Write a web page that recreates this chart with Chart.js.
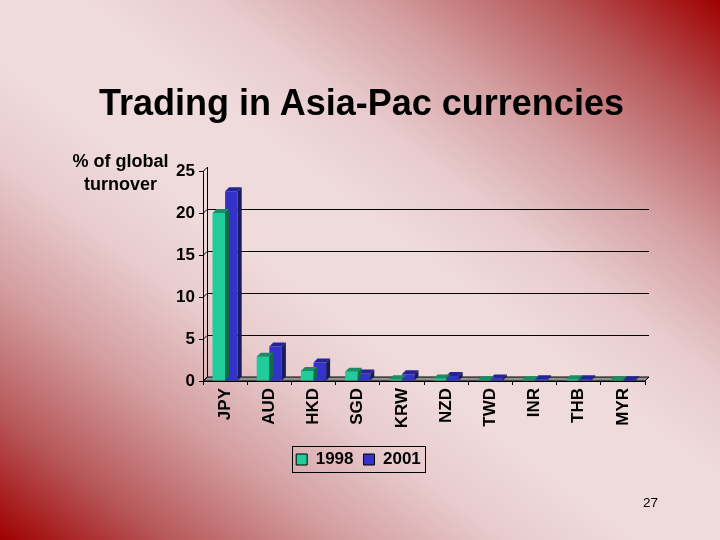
<!DOCTYPE html>
<html>
<head>
<meta charset="utf-8">
<script src="https://cdn.jsdelivr.net/npm/chart.js@4.4.0/dist/chart.umd.min.js"></script>
<style>
  html, body { margin: 0; padding: 0; }
  body {
    width: 720px; height: 540px; position: relative; overflow: hidden;
    font-family: "Liberation Sans", Arial, sans-serif;
    background: linear-gradient(to bottom left,
      #a00000 0%, #b85a5c 12%, #d49fa1 24%, #e8cbcd 35%, #efdadc 44%,
      #efdadc 56%, #e8cbcd 65%, #d49fa1 76%, #b85a5c 88%, #a00000 100%);
  }
  #wrap { position: absolute; left: 0; top: 0; width: 720px; height: 540px; }
  .txt { position: absolute; color: #000; text-align: center; }
  #title { left: 0; top: 85px; width: 723px; font-size: 36px; line-height: 35px; font-weight: bold; }
  #ytitle { left: 60px; top: 150px; width: 121px; font-size: 18px; line-height: 23px; font-weight: bold; }
  #pageno { left: 630px; top: 496px; width: 41px; font-size: 13.5px; line-height: 14px; }
</style>
</head>
<body>
<div id="wrap"><canvas id="myChart"></canvas></div>
<div class="txt" id="title">Trading in Asia-Pac currencies</div>
<div class="txt" id="ytitle">% of global<br>turnover</div>
<div class="txt" id="pageno">27</div>
<script>
const currencies = ['JPY', 'AUD', 'HKD', 'SGD', 'KRW', 'NZD', 'TWD', 'INR', 'THB', 'MYR'];
const share1998 = [20.0, 2.9, 1.2, 1.1, 0.2, 0.3, 0.1, 0.1, 0.2, 0.1];
const share2001 = [22.6, 4.1, 2.2, 0.9, 0.8, 0.6, 0.3, 0.2, 0.2, 0.1];
const yTicks = [0, 5, 10, 15, 20, 25];

const DX = 4, DY = -4;
const faceColors = [
    { top: 'rgb(28,140,100)', side: 'rgb(18,105,75)' },
    { top: 'rgb(36,36,150)', side: 'rgb(26,26,92)' }
];

Chart.defaults.font.family = '"Liberation Sans", Arial, sans-serif';
Chart.defaults.color = '#000';

// back wall, floor and the 3d faces of the bars
const depth3d = {
    id: 'depth3d',
    beforeDatasetsDraw: (chart) => {
        const ctx = chart.ctx;
        const area = chart.chartArea;
        const y = chart.scales.y;
        ctx.save();
        ctx.strokeStyle = '#000';
        ctx.lineWidth = 1;
        // floor
        ctx.fillStyle = '#8f8f8f';
        ctx.beginPath();
        ctx.moveTo(area.left, area.bottom);
        ctx.lineTo(area.right, area.bottom);
        ctx.lineTo(area.right + DX, area.bottom + DY);
        ctx.lineTo(area.left + DX, area.bottom + DY);
        ctx.closePath();
        ctx.fill();
        ctx.stroke();
        // back vertical
        ctx.beginPath();
        ctx.moveTo(area.left + DX + 0.5, area.bottom + DY);
        ctx.lineTo(area.left + DX + 0.5, area.top + DY);
        ctx.stroke();
        yTicks.forEach(v => {
            const py = Math.round(y.getPixelForValue(v)) + 0.5;
            ctx.beginPath();
            ctx.moveTo(area.left, py);
            ctx.lineTo(area.left + DX, py + DY);
            if (v > 0 && v < 25) ctx.lineTo(area.right + DX, py + DY);
            ctx.stroke();
        });
        ctx.restore();
    },
    afterDatasetDraw: (chart, args) => {
        const ctx = chart.ctx;
        const c = faceColors[args.index];
        ctx.save();
        args.meta.data.forEach(bar => {
            const p = bar.getProps(['x', 'y', 'base', 'width'], true);
            const l = p.x - p.width / 2, r = p.x + p.width / 2;
            ctx.fillStyle = c.top;
            ctx.beginPath();
            ctx.moveTo(l, p.y);
            ctx.lineTo(r, p.y);
            ctx.lineTo(r + DX, p.y + DY);
            ctx.lineTo(l + DX, p.y + DY);
            ctx.closePath();
            ctx.fill();
            ctx.fillStyle = c.side;
            ctx.beginPath();
            ctx.moveTo(r, p.y);
            ctx.lineTo(r + DX, p.y + DY);
            ctx.lineTo(r + DX, p.base + DY);
            ctx.lineTo(r, p.base);
            ctx.closePath();
            ctx.fill();
        });
        ctx.restore();
    },
    afterDraw: (chart) => {
        const boxes = chart.legend.legendHitBoxes;
        if (!boxes || !boxes.length) return;
        const ctx = chart.ctx;
        const left = Math.min(...boxes.map(b => b.left)) - 4;
        const right = Math.max(...boxes.map(b => b.left + b.width)) + 4;
        const top = boxes[0].top - 5;
        const bottom = boxes[0].top + boxes[0].height + 4;
        ctx.save();
        ctx.strokeStyle = '#000';
        ctx.lineWidth = 1;
        ctx.strokeRect(Math.round(left) + 0.5, Math.round(top) + 0.5, Math.round(right - left), Math.round(bottom - top));
        ctx.restore();
    }
};

const ctx = document.getElementById('myChart').getContext('2d');
const myChart = new Chart(ctx, {
    type: 'bar',
    plugins: [depth3d],
    data: {
        labels: currencies,
        datasets: [{
            label: '1998',
            data: share1998,
            backgroundColor: 'rgb(32,204,153)',
            borderWidth: 0,
            barPercentage: 1,
            categoryPercentage: 0.57
        }, {
            label: '2001',
            data: share2001,
            backgroundColor: 'rgb(51,51,204)',
            borderWidth: 0,
            barPercentage: 1,
            categoryPercentage: 0.57
        }]
    },
    options: {
        responsive: true,
        maintainAspectRatio: false,
        animation: false,
        layout: { padding: { left: 72, right: 75, top: 171, bottom: 62 } },
        scales: {
            x: {
                grid: { drawOnChartArea: false, tickLength: 4, color: '#000', offset: true },
                border: { color: '#000' },
                ticks: { minRotation: 90, maxRotation: 90, autoSkip: false, padding: 3,
                    color: '#000', font: { size: 17, weight: 'bold' } },
                afterFit: (axis) => { axis.height = 60; }
            },
            y: {
                min: 0,
                max: 25,
                grid: { drawOnChartArea: false, tickLength: 4, color: '#000' },
                border: { color: '#000' },
                ticks: { stepSize: 5, padding: 4, color: '#000', font: { size: 17, weight: 'bold' } },
                afterFit: (axis) => { axis.width = 131; }
            }
        },
        plugins: {
            legend: {
                position: 'bottom',
                labels: {
                    boxWidth: 11,
                    boxHeight: 11,
                    padding: 10,
                    color: '#000',
                    font: { size: 17, weight: 'bold' },
                    generateLabels: (chart) => {
                        const items = Chart.defaults.plugins.legend.labels.generateLabels(chart);
                        items.forEach(it => { it.strokeStyle = '#000'; it.lineWidth = 1; });
                        return items;
                    }
                }
            },
            tooltip: { enabled: false }
        }
    }
});
</script>
</body>
</html>
